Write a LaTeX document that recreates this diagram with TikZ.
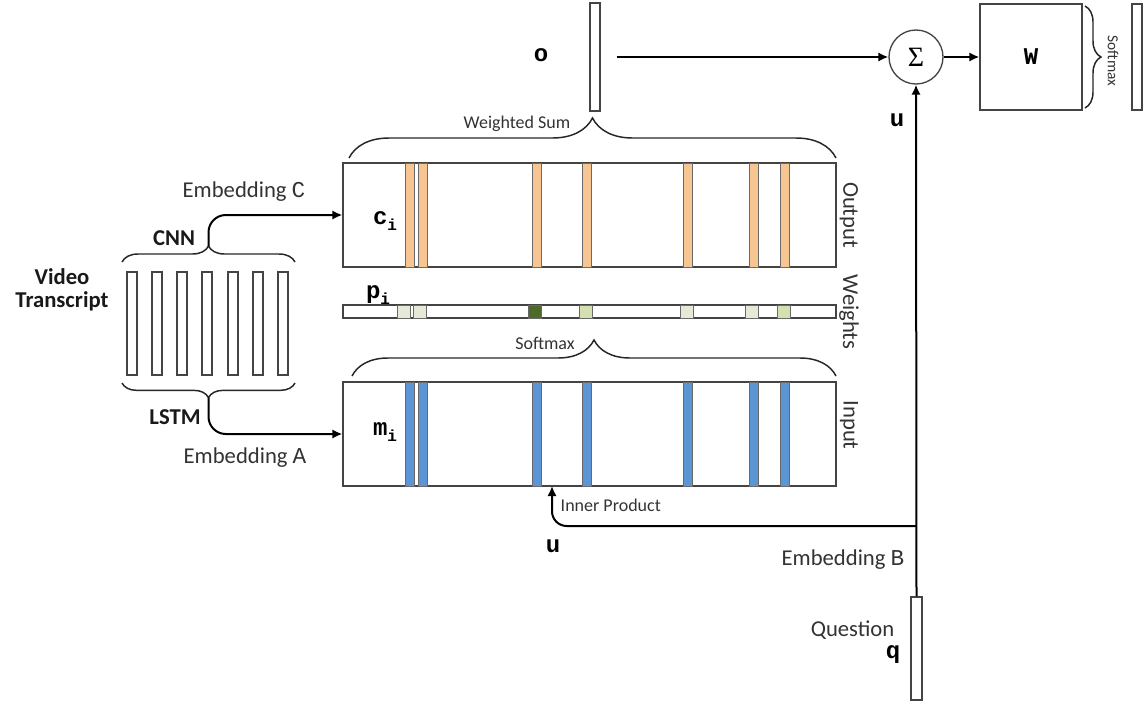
\documentclass[tikz,border=0pt]{standalone}
\usepackage{fontspec}
\setmainfont{Carlito}
\newfontfamily\tw{Liberation Mono}
\newfontfamily\sg{Liberation Serif}
\usetikzlibrary{decorations.pathreplacing,arrows.meta,fit}

\definecolor{peach}{HTML}{F6C592}
\definecolor{sky}{HTML}{5B95D3}
\definecolor{edge}{HTML}{444444}
\definecolor{ink}{HTML}{333333}
\definecolor{wpale}{HTML}{E5EAD8}
\definecolor{wlight}{HTML}{D4E0B2}
\definecolor{wdark}{HTML}{4E6A2B}

\begin{document}
\begin{tikzpicture}[x=0.75pt,y=-0.75pt,
  frame/.style={draw=edge, line width=1pt, inner sep=0pt, fill=white},
  stripeO/.style={draw=edge!80, line width=0.6pt, fill=peach},
  stripeB/.style={draw=edge!80, line width=0.6pt, fill=sky},
  cell/.style={draw=edge!80, line width=0.6pt},
  conn/.style={draw=black, line width=1.5pt, -{Latex[length=7.5pt,width=7pt]}},
  curly/.style={draw=black!85, line width=1.1pt, decorate},
  big/.style={font=\fontsize{17}{19}\selectfont, text=ink},
  bigb/.style={font=\fontsize{17}{19}\selectfont\bfseries, text=black!90},
  small/.style={font=\fontsize{13.5}{15}\selectfont, text=ink},
  sym/.style={font=\fontsize{18}{18}\selectfont\tw\bfseries, text=black},
  side/.style={font=\fontsize{17}{19}\selectfont, text=ink, rotate=-90}
]
\useasboundingbox (0,0) rectangle (1143,704);

% ---- memory blocks ----
\node[frame, fit={(343,163) (836,267)}] (outbox) {};
\node[frame, fit={(343,305) (836,318)}] (wbar) {};
\node[frame, fit={(343,382) (836,486)}] (inbox) {};

\foreach \x in {405,418,532,582,683,749,780} {
  \draw[stripeO] (\x,163) rectangle +(9,104);
  \draw[stripeB] (\x,382) rectangle +(9,104);
}
\foreach \x/\c in {397/wpale,413/wpale,528/wdark,579/wlight,680/wpale,745/wpale,777/wlight}
  \draw[cell, fill=\c] (\x,305) rectangle +(13,13);

\node[sym] at (385,221) {c\raisebox{-5pt}{\fontsize{12}{12}\selectfont i}};
\node[sym] at (385,432) {m\raisebox{-5pt}{\fontsize{12}{12}\selectfont i}};
\node[sym] at (378,295) {p\raisebox{-5pt}{\fontsize{12}{12}\selectfont i}};

\node[side] at (849,215) {Output};
\node[side] at (849,312) {Weights};
\node[side] at (849,425) {Input};

% ---- braces over the blocks ----
\draw[curly, decoration={brace, amplitude=30pt}] (349,158) -- (836,158);
\node[small] at (517,124) {Weighted Sum};
\draw[curly, decoration={brace, amplitude=27pt}] (352,376) -- (836,376);
\node[small] at (545,343) {Softmax};

% ---- output path ----
\node[frame, fit={(590,3) (600,111)}] (ovec) {};
\node[sym] at (541,55) {o};
\node[circle, draw=edge, line width=1pt, minimum size=40.5pt, inner sep=0pt]
  (sum) at (916,57) {\fontsize{21}{21}\selectfont\sg Σ};
\node[frame, fit={(980,4) (1082,110)}] (wmat) {};
\node[sym] at (wmat) {W};
\node[frame, fit={(1132,4) (1142,110)}] (ans) {};
\draw[curly, decoration={brace, amplitude=12pt}] (1085,6) -- (1085,108);
\node[font=\fontsize{11.5}{12}\selectfont, text=ink, rotate=-90] at (1113,61) {Softmax};

\draw[conn] ([xshift=12pt]ovec.east) -- (sum.west);
\draw[conn] (sum.east) -- (wmat.west);

% ---- question path ----
\node[frame, fit={(911,597) (922,700)}] (qvec) {};
\draw[conn] (qvec.north) -- (sum.south);
\node[sym] at (897,120) {u};
\coordinate (junc) at (916.5,526);
\coordinate (ip) at (552,486);
\draw[conn, rounded corners=11pt] (junc) -| (ip);
\node[small, anchor=west] at (556,505) {Inner Product};
\node[sym] at (553,546) {u};
\node[big, anchor=east] at (909,560) {Embedding {\tw B}};
\node[big, anchor=east] at (899,630) {Question};
\node[sym] at (893,655) {q};

% ---- video transcript ----
\foreach \x [count=\i] in {127,152,177,202,228,253,278}
  \node[frame, fit={(\x,272) (\x+10,375)}] (t\i) {};
\node[bigb, align=center] at (62,290) {Video\\[-2pt]Transcript};

\draw[curly, decoration={brace, amplitude=12pt}] (122,262) -- (295,262);
\coordinate (cnntip) at (208.5,246);
\draw[curly, decoration={brace, amplitude=11pt, mirror}] (122,383) -- (295,383);
\coordinate (lstmtip) at (208.5,397.5);

\draw[conn, rounded corners=13pt] (cnntip) |- (outbox.west);
\draw[conn, rounded corners=13pt] (lstmtip) |- (inbox.west);

\node[bigb] at (174,238) {CNN};
\node[bigb] at (175,417) {LSTM};
\node[big] at (244,192) {Embedding {\tw C}};
\node[big] at (245,458) {Embedding {\tw A}};
\end{tikzpicture}
\end{document}
